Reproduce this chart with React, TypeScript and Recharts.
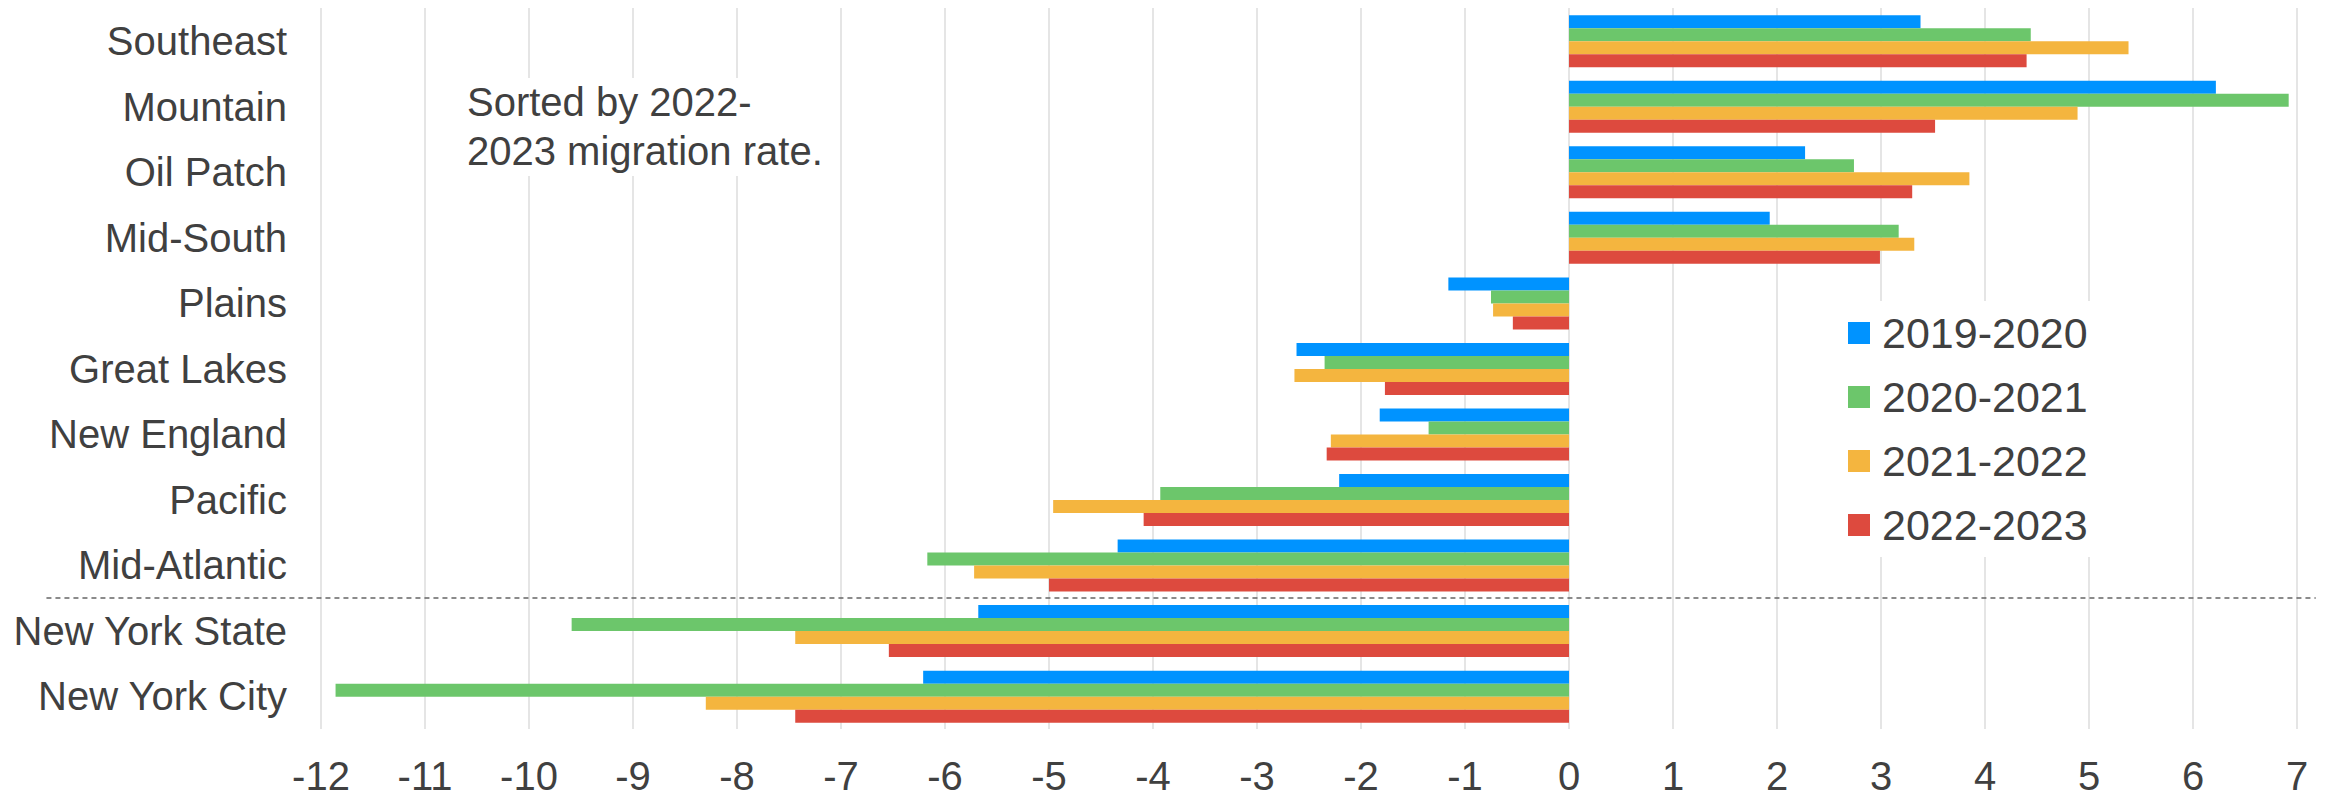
import React from 'react';
import {
  BarChart,
  Bar,
  XAxis,
  YAxis,
  CartesianGrid,
  Legend,
  ReferenceLine,
} from 'recharts';

// regions, sorted by 2022-2023 migration rate (NY rows kept at the bottom)
const regions = [
  'Southeast',
  'Mountain',
  'Oil Patch',
  'Mid-South',
  'Plains',
  'Great Lakes',
  'New England',
  'Pacific',
  'Mid-Atlantic',
  'New York State',
  'New York City',
];

const y2019_2020 = [3.38, 6.22, 2.27, 1.93, -1.16, -2.62, -1.82, -2.21, -4.34, -5.68, -6.21];
const y2020_2021 = [4.44, 6.92, 2.74, 3.17, -0.75, -2.35, -1.35, -3.93, -6.17, -9.59, -11.86];
const y2021_2022 = [5.38, 4.89, 3.85, 3.32, -0.73, -2.64, -2.29, -4.96, -5.72, -7.44, -8.3];
const y2022_2023 = [4.4, 3.52, 3.3, 2.99, -0.54, -1.77, -2.33, -4.09, -5.0, -6.54, -7.44];

const xTicks = [-12, -11, -10, -9, -8, -7, -6, -5, -4, -3, -2, -1, 0, 1, 2, 3, 4, 5, 6, 7];

// dashed separator sits above the New York rows
const separatorRegion = 'New York State';
const separatorSpan = [-14.64, 7.18];

const series = [
  { key: '2019-2020', color: '#0093ff' },
  { key: '2020-2021', color: '#6cc66b' },
  { key: '2021-2022', color: '#f4b53f' },
  { key: '2022-2023', color: '#dd4a3e' },
];

const data = regions.map((region, i) => ({
  region,
  '2019-2020': y2019_2020[i],
  '2020-2021': y2020_2021[i],
  '2021-2022': y2021_2022[i],
  '2022-2023': y2022_2023[i],
}));

const textColor = '#404040';

const renderLegend = () => (
  <div style={{ background: '#fff', padding: '0 14px 0 18px' }}>
    {series.map(s => (
      <div
        key={s.key}
        style={{ display: 'flex', alignItems: 'center', height: 64 }}
      >
        <span
          style={{
            display: 'inline-block',
            width: 22,
            height: 22,
            background: s.color,
            marginRight: 12,
          }}
        />
        <span style={{ fontSize: 43, color: textColor }}>{s.key}</span>
      </div>
    ))}
  </div>
);

export default function App() {
  return (
    <div
      style={{
        position: 'relative',
        width: 2336,
        height: 798,
        fontFamily: '"Liberation Sans", Arial, sans-serif',
        background: '#fff',
      }}
    >
      <style>{'body{margin:0}'}</style>
      <BarChart
        width={2336}
        height={798}
        data={data}
        layout="vertical"
        margin={{ top: 8, right: 39, bottom: 0, left: 0 }}
        barCategoryGap="11%"
        barGap={0}
      >
        <CartesianGrid horizontal={false} stroke="#dcdcdc" strokeWidth={1.5} />
        <XAxis
          type="number"
          domain={[-12, 7]}
          ticks={xTicks}
          interval={0}
          height={69}
          axisLine={false}
          tickLine={false}
          tickSize={0}
          tickMargin={33}
          tick={{ fill: textColor, fontSize: 40 }}
        />
        <YAxis
          type="category"
          dataKey="region"
          width={321}
          axisLine={false}
          tickLine={false}
          tickSize={0}
          tickMargin={34}
          interval={0}
          tick={{ fill: textColor, fontSize: 40 }}
        />
        <Legend
          layout="vertical"
          align="center"
          verticalAlign="middle"
          content={renderLegend}
          wrapperStyle={{ top: 301, left: 1830, width: 'auto' }}
        />
        {series.map(s => (
          <Bar key={s.key} dataKey={s.key} fill={s.color} isAnimationActive={false} />
        ))}
        <ReferenceLine
          segment={[
            { x: separatorSpan[0], y: separatorRegion },
            { x: separatorSpan[1], y: separatorRegion },
          ]}
          position="start"
          ifOverflow="visible"
          stroke="#666"
          strokeWidth={1.5}
          strokeDasharray="5 4"
        />
      </BarChart>
      <div
        style={{
          position: 'absolute',
          left: 440,
          top: 78,
          width: 368,
          paddingLeft: 27,
          height: 98,
          background: '#fff',
          fontSize: 40,
          lineHeight: '49px',
          color: textColor,
        }}
      >
        Sorted by 2022-
        <br />
        2023 migration rate.
      </div>
    </div>
  );
}
